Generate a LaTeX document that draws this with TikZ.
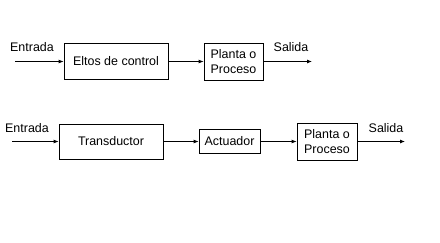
\documentclass[tikz,border=0pt]{standalone}
\usepackage{fontspec}
\setmainfont{Liberation Sans}
\usetikzlibrary{arrows.meta,positioning}
\begin{document}
\begin{tikzpicture}[x=1bp,y=-1bp,>={Latex[length=5bp,width=4bp]},line width=0.8bp,
 every node/.style={font=\fontsize{12.5}{15.5}\selectfont},
 blk/.style={draw,align=center,inner sep=1pt,line width=0.8bp}]
\useasboundingbox (0,0) rectangle (440,242);
% first row
\coordinate (in1) at (15,61.5);
\coordinate (out1) at (312,61.5);
\node[blk,minimum width=104bp,minimum height=36bp] (ctrl) at (116,61.5) {Eltos de control};
\node[blk,minimum width=59bp,minimum height=37bp] (plant1) at (233.5,61.5) {Planta o\\Proceso};
\draw[->] (in1)--(ctrl);
\draw[->] (ctrl)--(plant1);
\draw[->] (plant1)--(out1);
\node (e1) at (32,47) {Entrada};
\node (s1) at (291,47) {Salida};
% second row
\coordinate (in2) at (12,141.5);
\coordinate (out2) at (405,141.5);
\node[blk,minimum width=104bp,minimum height=35bp] (trans) at (111,141.5) {Transductor};
\node[blk,minimum width=61bp,minimum height=24bp] (act) at (229.5,141.5) {Actuador};
\node[blk,minimum width=60bp,minimum height=37bp] (plant2) at (327,141.5) {Planta o\\Proceso};
\draw[->] (in2)--(trans);
\draw[->] (trans)--(act);
\draw[->] (act)--(plant2);
\draw[->] (plant2)--(out2);
\node (e2) at (27,128) {Entrada};
\node (s2) at (386,128) {Salida};
\end{tikzpicture}
\end{document}
